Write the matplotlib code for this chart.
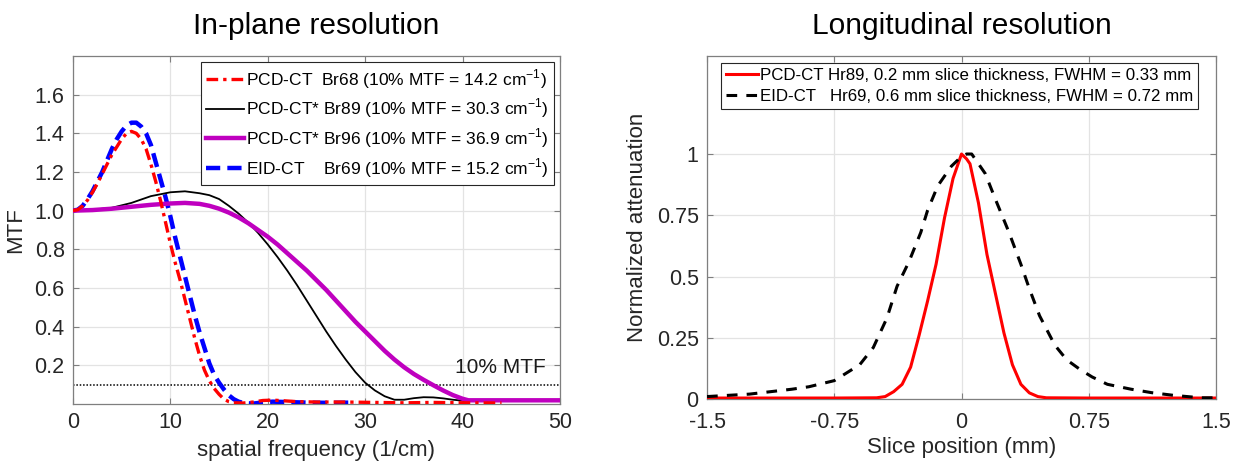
import matplotlib
matplotlib.use("Agg")
import matplotlib.pyplot as plt

plt.rcParams["font.family"] = ["Liberation Sans", "DejaVu Sans"]
plt.rcParams["mathtext.fontset"] = "custom"
plt.rcParams["mathtext.rm"] = "Liberation Sans"
plt.rcParams["axes.unicode_minus"] = False

# --- in-plane MTF curves (spatial frequency in 1/cm) ---
pcd_br68_f = [0, 0.5, 1.0, 1.5, 2.0, 2.5, 3.0, 3.5, 4.0, 4.5, 5.0, 5.5, 6.0, 6.5, 7.0,
              7.5, 8.0, 8.5, 9.0, 9.5, 10.0, 10.5, 11.0, 11.5, 12.0, 12.5, 13.0, 13.5,
              14.0, 14.5, 15.0, 15.5, 16.0, 16.5, 17.5, 18.5, 19.5, 20.5, 21.5, 23, 25,
              28, 31, 34, 37, 40, 44]
pcd_br68_mtf = [1.0, 1.005, 1.025, 1.055, 1.095, 1.14, 1.19, 1.24, 1.29, 1.33, 1.37,
                1.40, 1.41, 1.40, 1.37, 1.32, 1.24, 1.15, 1.05, 0.94, 0.83, 0.73, 0.64,
                0.54, 0.44, 0.34, 0.25, 0.175, 0.12, 0.08, 0.05, 0.025, 0.012, 0.006,
                0.005, 0.01, 0.018, 0.02, 0.017, 0.012, 0.01, 0.01, 0.008, 0.006, 0.008,
                0.006, 0.005]

pcd_br89_f = [0, 2, 4, 6, 8, 10, 11.5, 13, 14, 15, 16, 17, 18, 19, 20, 21, 22, 23, 24,
              25, 26, 27, 28, 29, 30, 31, 32, 33, 34, 35, 36, 37, 38, 39, 40, 41, 50]
pcd_br89_mtf = [1.0, 1.005, 1.015, 1.04, 1.075, 1.095, 1.10, 1.09, 1.08, 1.06, 1.025,
                0.985, 0.938, 0.885, 0.825, 0.76, 0.69, 0.615, 0.535, 0.455, 0.375,
                0.30, 0.23, 0.165, 0.11, 0.07, 0.04, 0.022, 0.022, 0.03, 0.035, 0.034,
                0.029, 0.022, 0.017, 0.016, 0.016]

pcd_br96_f = [0, 2, 4, 6, 8, 10, 11.5, 13, 14, 15, 16, 17, 18, 19, 20, 21, 22, 23, 24,
              25, 26, 27, 28, 29, 30, 31, 32, 33, 34, 35, 36, 37, 38, 39, 40, 40.6, 50]
pcd_br96_mtf = [1.0, 1.003, 1.01, 1.02, 1.03, 1.037, 1.04, 1.035, 1.025, 1.01, 0.99,
                0.965, 0.935, 0.90, 0.865, 0.825, 0.78, 0.735, 0.69, 0.64, 0.59, 0.535,
                0.48, 0.425, 0.375, 0.325, 0.275, 0.23, 0.19, 0.155, 0.125, 0.097, 0.07,
                0.046, 0.027, 0.019, 0.019]

eid_br69_f = [0, 0.5, 1.0, 1.5, 2.0, 2.5, 3.0, 3.5, 4.0, 4.5, 5.0, 5.5, 6.0, 6.5, 7.0,
              7.5, 8.0, 8.5, 9.0, 9.5, 10.0, 10.5, 11.0, 11.5, 12.0, 12.5, 13.0, 13.5,
              14.0, 14.5, 15.0, 15.5, 16.0, 16.5, 17.0, 17.5, 18.5, 19.5, 20.5, 22, 24,
              26, 29]
eid_br69_mtf = [1.0, 1.005, 1.025, 1.06, 1.10, 1.15, 1.20, 1.26, 1.32, 1.37, 1.41, 1.44,
                1.455, 1.455, 1.435, 1.40, 1.34, 1.25, 1.16, 1.07, 0.97, 0.86, 0.76,
                0.66, 0.56, 0.46, 0.37, 0.29, 0.21, 0.15, 0.11, 0.075, 0.045, 0.025,
                0.012, 0.005, 0.002, 0.008, 0.012, 0.01, 0.007, 0.006, 0.007]

# --- slice sensitivity profiles (position in mm) ---
pcd_hr89_z = [-1.5, -1.0, -0.75, -0.5, -0.45, -0.40, -0.35, -0.30, -0.25, -0.20, -0.15,
              -0.10, -0.05, 0.0, 0.03, 0.05, 0.10, 0.15, 0.20, 0.25, 0.30, 0.35, 0.40,
              0.45, 0.50, 0.75, 1.0, 1.5]
pcd_hr89_att = [0.004, 0.004, 0.004, 0.005, 0.01, 0.03, 0.06, 0.13, 0.26, 0.40, 0.55,
                0.74, 0.90, 1.0, 0.98, 0.96, 0.80, 0.59, 0.43, 0.27, 0.14, 0.06, 0.025,
                0.01, 0.005, 0.004, 0.004, 0.004]

eid_hr69_z = [-1.5, -1.25, -1.0, -0.9, -0.75, -0.6, -0.52, -0.44, -0.38, -0.31, -0.24,
              -0.20, -0.14, -0.06, 0.0, 0.03, 0.06, 0.14, 0.20, 0.28, 0.35, 0.40, 0.46,
              0.55, 0.62, 0.70, 0.77, 0.86, 1.0, 1.12, 1.25, 1.41, 1.5]
eid_hr69_att = [0.01, 0.02, 0.04, 0.05, 0.075, 0.14, 0.21, 0.33, 0.46, 0.56, 0.68, 0.77,
                0.87, 0.95, 0.99, 1.0, 1.0, 0.92, 0.815, 0.68, 0.55, 0.45, 0.34, 0.22,
                0.16, 0.12, 0.09, 0.06, 0.04, 0.026, 0.015, 0.005, 0.005]

mtf_ticks = [0.2, 0.4, 0.6, 0.8, 1.0, 1.2, 1.4, 1.6]
freq_ticks = [0, 10, 20, 30, 40, 50]
pos_ticks = [-1.5, -0.75, 0, 0.75, 1.5]
pos_ticklabels = ["-1.5", "-0.75", "0", "0.75", "1.5"]
att_ticks = [0, 0.25, 0.5, 0.75, 1]
att_ticklabels = ["0", "0.25", "0.5", "0.75", "1"]

CM = r"cm$^{\mathregular{-1}}$"
AXIS_GRAY = "#7f7f7f"
GRID_GRAY = "#e3e3e3"


def style_axes(ax):
    for s in ax.spines.values():
        s.set_color(AXIS_GRAY)
        s.set_linewidth(0.9)
    ax.tick_params(direction="in", top=True, right=True, length=4, width=0.8,
                   color=AXIS_GRAY, labelsize=15.5, labelcolor="#262626", pad=6)
    ax.grid(True, color=GRID_GRAY, linewidth=0.9)
    ax.set_axisbelow(True)


fig = plt.figure(figsize=(12.35, 4.68), dpi=100)

# in-plane resolution
ax1 = fig.add_axes([0.0591, 0.1368, 0.3943, 0.7436])
style_axes(ax1)
ax1.axhline(0.1, color="black", linestyle=(0, (1, 1.2)), linewidth=1.1, zorder=2)
l_eid, = ax1.plot(eid_br69_f, eid_br69_mtf, color="#0000ff", linestyle=(0, (3.2, 1.6)),
                  linewidth=3.2, zorder=3)
l_68, = ax1.plot(pcd_br68_f, pcd_br68_mtf, color="#ff0000", linestyle=(0, (3.5, 1.5, 1, 1.5)),
                 linewidth=2.4, zorder=4)
l_89, = ax1.plot(pcd_br89_f, pcd_br89_mtf, color="black", linewidth=1.3, zorder=3)
l_96, = ax1.plot(pcd_br96_f, pcd_br96_mtf, color="#bf00bf", linewidth=3.2, zorder=3)
ax1.text(39.2, 0.19, "10% MTF", fontsize=15, color="#1a1a1a", va="center")
ax1.set_xlim(0, 50)
ax1.set_ylim(0, 1.8)
ax1.set_xticks(freq_ticks)
ax1.set_yticks(mtf_ticks)
ax1.set_yticklabels([f"{v:.1f}" for v in mtf_ticks])
ax1.set_xlabel("spatial frequency (1/cm)", fontsize=16, color="#262626", labelpad=5)
ax1.set_ylabel("MTF", fontsize=16, color="#262626", labelpad=6)
ax1.set_title("In-plane resolution", fontsize=21.5, pad=16)
leg1 = ax1.legend(
    [l_68, l_89, l_96, l_eid],
    [f"PCD-CT  Br68 (10% MTF = 14.2 {CM})",
     f"PCD-CT* Br89 (10% MTF = 30.3 {CM})",
     f"PCD-CT* Br96 (10% MTF = 36.9 {CM})",
     f"EID-CT    Br69 (10% MTF = 15.2 {CM})"],
    loc="upper right", bbox_to_anchor=(0.988, 0.983), borderaxespad=0,
    fontsize=12.5, handlelength=2.2, handletextpad=0.1, labelspacing=0.35,
    borderpad=0.3, fancybox=False, framealpha=1, edgecolor="#262626")
leg1.get_frame().set_linewidth(0.8)

# longitudinal resolution
ax2 = fig.add_axes([0.5725, 0.1474, 0.4121, 0.7329])
style_axes(ax2)
ax2.tick_params(axis="x", pad=9)
l_pcd, = ax2.plot(pcd_hr89_z, pcd_hr89_att, color="#ff0000", linewidth=2.2, zorder=3)
l_eid2, = ax2.plot(eid_hr69_z, eid_hr69_att, color="black", linestyle=(0, (3.5, 3)),
                   linewidth=2.2, zorder=3)
ax2.set_xlim(-1.5, 1.5)
ax2.set_ylim(0, 1.4)
ax2.set_xticks(pos_ticks)
ax2.set_xticklabels(pos_ticklabels)
ax2.set_yticks(att_ticks)
ax2.set_yticklabels(att_ticklabels)
ax2.set_xlabel("Slice position (mm)", fontsize=16, color="#262626", labelpad=3)
ax2.set_ylabel("Normalized attenuation", fontsize=16, color="#262626", labelpad=6)
ax2.set_title("Longitudinal resolution", fontsize=21.5, pad=16)
leg2 = ax2.legend(
    [l_pcd, l_eid2],
    ["PCD-CT Hr89, 0.2 mm slice thickness, FWHM = 0.33 mm",
     "EID-CT   Hr69, 0.6 mm slice thickness, FWHM = 0.72 mm"],
    loc="upper left", bbox_to_anchor=(0.0275, 0.98), borderaxespad=0,
    fontsize=12.2, handlelength=1.9, handletextpad=0.1, labelspacing=0.35,
    borderpad=0.3, fancybox=False, framealpha=1, edgecolor="#262626")
leg2.get_frame().set_linewidth(0.8)

fig.savefig("out.png", dpi=100, facecolor="white")
